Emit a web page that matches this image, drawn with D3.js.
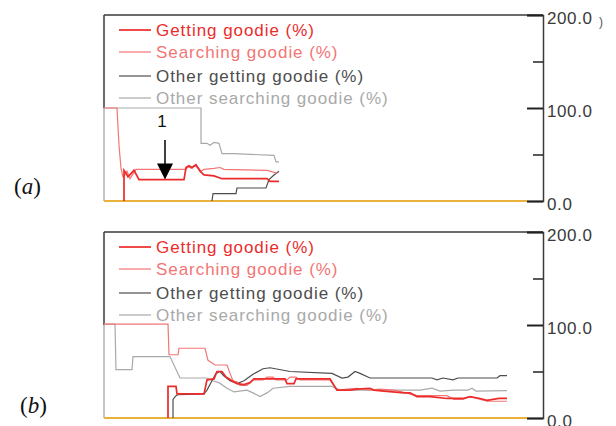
<!DOCTYPE html>
<html>
<head>
  <meta charset="utf-8">
  <title>Goodie percentages, runs (a) and (b)</title>
  <style>
    body { margin: 0; background: #fff; }
    text { font-family: "Liberation Sans", Arial, sans-serif; }
  </style>
</head>
<body>
  <script src="https://cdn.jsdelivr.net/npm/d3@7"></script>
  <script>
    // series names / colours in legend order
    var seriesNames = ["Getting goodie (%)", "Searching goodie (%)", "Other getting goodie (%)", "Other searching goodie (%)"];
    var seriesColors = ["#ec2b2b", "#f37575", "#4d4d4d", "#a9a9a9"];
    var seriesWidths = [1.7, 1.2, 1.2, 1.2];

    // y axis ticks
    var majorTicks = [0, 100, 200];
    var minorTicks = [50, 150];

    // run (a): [time step, percent]
    var getA = [[20, 0], [20, 33], [22, 30], [24, 26], [30, 33], [35, 23], [80, 23], [82, 36], [85, 38], [88, 36], [92, 39], [96, 32], [100, 28], [110, 27], [118, 24], [163, 24], [166, 21], [175, 21]];
    var searchA = [[0, 100], [13, 100], [15, 60], [17, 35], [19, 26], [21, 28], [23, 32], [26, 24], [32, 34], [82, 34], [84, 37], [88, 35], [90, 38], [94, 36], [97, 32], [100, 34], [110, 35], [116, 36], [120, 34], [163, 33], [173, 30]];
    var otherGetA = [[108, 0], [109, 8], [132, 8], [133, 14], [162, 14], [165, 23], [170, 28], [175, 32]];
    var otherSearchA = [[0, 100], [97, 100], [97, 62], [103, 62], [106, 60], [110, 63], [115, 62], [118, 51], [130, 51], [170, 49], [172, 42], [175, 42]];

    // run (b)
    var getB = [[64, 0], [64, 34], [72, 34], [73, 26], [100, 26], [103, 41], [110, 42], [113, 50], [118, 50], [122, 44], [128, 40], [133, 37], [140, 36], [146, 38], [150, 42], [181, 42], [183, 37], [190, 37], [192, 42], [226, 42], [233, 30], [246, 30], [253, 31], [266, 32], [270, 30], [280, 29], [300, 27], [306, 27], [313, 23], [326, 23], [343, 21], [359, 21], [366, 23], [376, 21], [383, 19], [395, 21], [403, 21]];
    var searchB = [[0, 101], [64, 101], [65, 68], [74, 68], [75, 75], [101, 75], [104, 62], [111, 57], [123, 57], [126, 48], [129, 40], [133, 39], [136, 35], [143, 35], [149, 41], [159, 41], [163, 44], [169, 44], [172, 41], [183, 41], [186, 44], [192, 44], [196, 41], [226, 41], [233, 30], [243, 31], [253, 32], [266, 30], [276, 31], [290, 30], [306, 26], [313, 24], [343, 24], [350, 20], [359, 20], [366, 23], [383, 18], [403, 18]];
    var otherGetB = [[69, 0], [69, 20], [72, 24], [74, 25], [100, 26], [103, 30], [108, 40], [112, 48], [116, 50], [120, 45], [126, 40], [133, 37], [140, 40], [149, 47], [159, 53], [166, 54], [186, 50], [228, 48], [238, 43], [244, 44], [251, 50], [256, 48], [266, 43], [328, 43], [333, 41], [339, 43], [349, 41], [354, 43], [393, 43], [396, 45.5], [403, 45.5]];
    var otherSearchB = [[0, 101], [11, 101], [12, 52], [28, 52], [29, 66], [66, 66], [76, 43], [103, 43], [109, 40], [115, 38], [123, 32], [130, 28], [143, 30], [149, 27], [156, 23], [163, 27], [169, 32], [186, 34], [228, 34], [236, 30], [316, 30], [328, 32], [336, 29], [350, 30], [364, 30], [368, 32], [372, 29], [403, 29.5]];

    var width = 616;
    var height = 426;

    var left = 104;
    var right = 543;
    var xEnd = 527;

    var svg = d3.select("body").append("svg")
      .attr("width", width)
      .attr("height", height);

    var x = d3.scaleLinear().domain([0, 423]).range([left, xEnd]);

    function drawPanel(top, bottom, data, label, labelX, labelY) {
      var y = d3.scaleLinear().domain([0, 200]).range([bottom, top]);
      var g = svg.append("g");

      // frame: top edge, left edge (dark above 100, light below)
      g.append("line").attr("x1", left).attr("x2", right).attr("y1", top).attr("y2", top)
        .attr("stroke", "#3a3a3a").attr("stroke-width", 1.5);
      g.append("line").attr("x1", left).attr("x2", left).attr("y1", top).attr("y2", y(100))
        .attr("stroke", "#3a3a3a").attr("stroke-width", 1.5);
      g.append("line").attr("x1", left).attr("x2", left).attr("y1", y(100)).attr("y2", bottom)
        .attr("stroke", "#b0b0b0").attr("stroke-width", 1.5);

      // zero line in orange
      g.append("line").attr("x1", left).attr("x2", xEnd).attr("y1", y(0)).attr("y2", y(0))
        .attr("stroke", "#e8b23c").attr("stroke-width", 2.2);

      // right axis, ticks pointing inward
      var axis = d3.axisRight(y).tickValues(majorTicks).tickSize(-16).tickPadding(4)
        .tickFormat(d3.format(".1f"));
      var ax = g.append("g").attr("transform", "translate(" + right + ",0)").call(axis);
      ax.select(".domain").attr("stroke", "#3a3a3a").attr("stroke-width", 1.5);
      ax.selectAll(".tick line").attr("stroke", "#222").attr("stroke-width", 2);
      ax.selectAll(".tick text")
        .attr("dy", "0.5em")
        .style("font-family", "'Liberation Sans', Arial, sans-serif")
        .style("font-size", "17px")
        .style("letter-spacing", "0.6px")
        .attr("fill", "#3a3a3a");

      var minor = d3.axisRight(y).tickValues(minorTicks).tickSize(-10).tickFormat("");
      var mx = g.append("g").attr("transform", "translate(" + right + ",0)").call(minor);
      mx.select(".domain").remove();
      mx.selectAll(".tick line").attr("stroke", "#222").attr("stroke-width", 1.5);

      // series lines, grey ones underneath
      var line = d3.line().x(function (d) { return x(d[0]); }).y(function (d) { return y(d[1]); });
      [3, 2, 1, 0].forEach(function (i) {
        g.append("path")
          .datum(data[i])
          .attr("fill", "none")
          .attr("stroke", seriesColors[i])
          .attr("stroke-width", seriesWidths[i])
          .attr("d", line);
      });

      // legend
      var rowOffsets = [15, 37, 61, 83];
      seriesNames.forEach(function (name, i) {
        var ry = top + rowOffsets[i];
        g.append("line").attr("x1", 119).attr("x2", 151).attr("y1", ry).attr("y2", ry)
          .attr("stroke", seriesColors[i]).attr("stroke-width", seriesWidths[i]);
        g.append("text")
          .attr("x", 156).attr("y", ry)
          .attr("dy", "0.36em")
          .style("font-size", "17px")
          .style("letter-spacing", "0.95px")
          .attr("fill", seriesColors[i])
          .text(name);
      });

      // panel label, math style
      var t = svg.append("text")
        .attr("x", labelX).attr("y", labelY)
        .style("font-family", "'Liberation Serif', 'DejaVu Serif', serif")
        .style("font-size", "23px")
        .attr("fill", "#111");
      t.append("tspan").text("(");
      t.append("tspan").style("font-style", "italic").text(label);
      t.append("tspan").text(")");

      return y;
    }

    var yA = drawPanel(15, 201, [getA, searchA, otherGetA, otherSearchA], "a", 14, 194);
    drawPanel(232, 418, [getB, searchB, otherGetB, otherSearchB], "b", 20, 413);

    // stray bracket after the top label of run (a)
    svg.append("text").attr("x", 599).attr("y", 26)
      .style("font-size", "12px").attr("fill", "#555").text(")");

    // annotation 1 in run (a)
    var arrowX = x(61);
    var tipY = yA(23);
    svg.append("text")
      .attr("x", arrowX - 3).attr("y", 127)
      .attr("text-anchor", "middle")
      .style("font-size", "17px")
      .attr("fill", "#111")
      .text("1");
    svg.append("line")
      .attr("x1", arrowX).attr("x2", arrowX)
      .attr("y1", 140).attr("y2", tipY - 14)
      .attr("stroke", "#000").attr("stroke-width", 1.5);
    svg.append("path")
      .attr("d", "M" + (arrowX - 8) + "," + (tipY - 16) + "L" + (arrowX + 8) + "," + (tipY - 16) + "L" + arrowX + "," + tipY + "Z")
      .attr("fill", "#000");
  </script>
</body>
</html>
